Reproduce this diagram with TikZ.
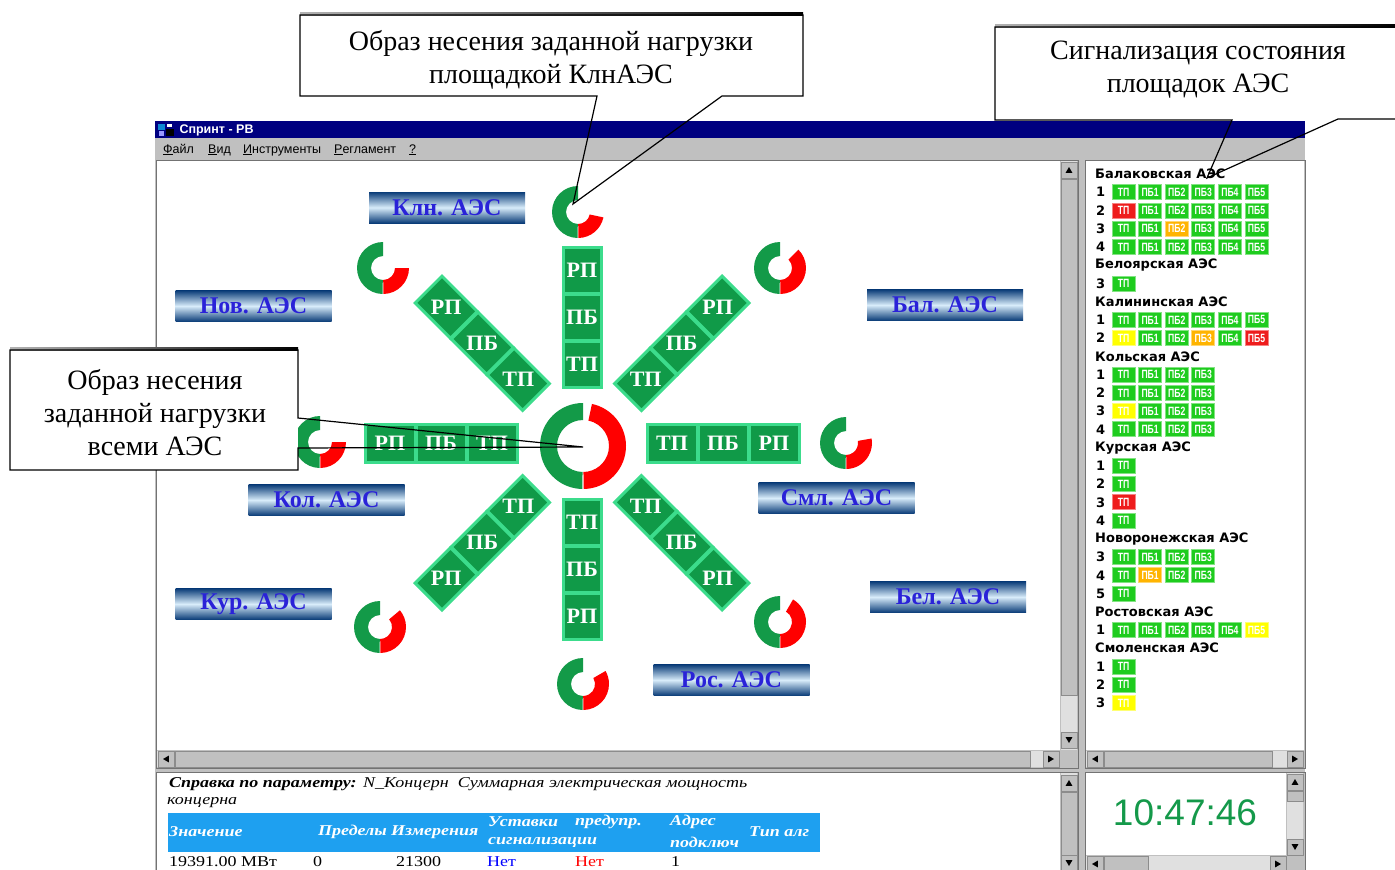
\documentclass[tikz,border=0pt]{standalone}
\usepackage{fontspec}
\setmainfont{Liberation Serif}
\setsansfont{Liberation Sans}
\newfontfamily\panelfont{DejaVu Sans}
\newfontfamily\cellfont[FakeStretch=0.72]{Liberation Sans}
\newfontfamily\infofont[FakeStretch=1.2]{Liberation Serif}
\usetikzlibrary{calc}
\definecolor{wingray}{HTML}{C0C0C0}
\definecolor{winnavy}{HTML}{000080}
\definecolor{armgreen}{HTML}{109A48}
\definecolor{armrim}{HTML}{3CDC8C}
\definecolor{ringgreen}{HTML}{139A48}
\definecolor{ringred}{HTML}{FF0000}
\definecolor{sg}{HTML}{1ECC1E}
\definecolor{sr}{HTML}{EE1C1C}
\definecolor{so}{HTML}{FFB400}
\definecolor{sy}{HTML}{FFFF00}
\definecolor{labelblue}{HTML}{2A22D8}
\definecolor{bardark}{HTML}{0A3C78}
\definecolor{barlight}{HTML}{D8ECFA}
\definecolor{headblue}{HTML}{1EA0F0}
\definecolor{clockgreen}{HTML}{14994A}
\tikzset{
  callout/.style={draw=black, line width=1.2},
  callouttext/.style={align=center, font=\fontsize{28}{33}\selectfont},
  aesbar/.style={minimum width=156, minimum height=31, inner sep=0,
    top color=bardark, bottom color=bardark, middle color=barlight,
    text=labelblue, font=\fontsize{24}{24}\selectfont\bfseries},
  armcell/.style={draw=armrim, line width=3, fill=armgreen,
    minimum width=50, minimum height=38, inner sep=0},
  armtext/.style={text=white, font=\fontsize{22}{22}\selectfont\bfseries},
  sig/.style={fill=#1, draw=#1!55!white, line width=0.8, minimum width=23,
    minimum height=15, inner sep=0, text=white,
    font=\cellfont\bfseries\fontsize{12}{12}\selectfont},
  paneltitle/.style={anchor=west, inner sep=0, font=\panelfont\bfseries\fontsize{13}{13}\selectfont},
  menuitem/.style={anchor=base west, inner sep=0, font=\sffamily\fontsize{12.5}{12.5}\selectfont},
  sbtrack/.style={fill=black!12},
  sbpart/.style={fill=wingray, draw=black!45, line width=0.8},
  pane/.style={draw=black!55, line width=1},
  headcell/.style={anchor=west, inner sep=0, text=white, font=\infofont\bfseries\itshape\fontsize{15}{15}\selectfont},
  datacell/.style={anchor=west, inner sep=0, font=\infofont\fontsize{15}{15}\selectfont},
}
\newcommand\ringmark[4]{%
  \fill[ringgreen] ($(#1)+(91:#2)$) arc[start angle=91, end angle=270, radius=#2]
    -- ($(#1)+(270:#3)$) arc[start angle=270, end angle=91, radius=#3] -- cycle;
  \fill[ringred] ($(#1)+(89:#2)$) arc[start angle=89, end angle=#4, radius=#2]
    -- ($(#1)+(#4:#3)$) arc[start angle=#4, end angle=89, radius=#3] -- cycle;
}
\newcommand\siglabel[1]{\ifcase#1\or ТП\or ПБ1\or ПБ2\or ПБ3\or ПБ4\or ПБ5\fi}
\newcommand\sigtitle[2]{%
  \pgfmathsetmacro\rowy{174+18.24*#1}
  \node[paneltitle] (npp-#1) at (1095,\rowy) {#2};
}
\newcommand\sigrow[3]{%
  \pgfmathsetmacro\rowy{174+18.24*#1}
  \node[paneltitle] (num-#1) at (1096,\rowy) {#2};
  \foreach \c [count=\k, evaluate=\k as \cx using 1123.5+26.6*(\k-1)] in {#3}
    \node[sig=\c] (sig-#1-\k) at (\cx,\rowy) {\siglabel{\k}};
}
\newcommand\sbbtn[3]{%
  \draw[sbpart] (#1,#2) rectangle ++(16,16);
  \fill ($(#1,#2)+(8,8)+(#3:3)$) -- ($(#1,#2)+(8,8)+(#3+130:4.5)$)
    -- ($(#1,#2)+(8,8)+(#3-130:4.5)$) -- cycle;
}
\begin{document}
\begin{tikzpicture}[x=1pt,y=-1pt]
\useasboundingbox[fill=white] (0,0) rectangle (1395,870);
% window
\fill[wingray] (155,138) rectangle (1305,870);
\fill[winnavy] (155,121) rectangle (1305,138);
\fill[cyan!70!blue] (158,124) rectangle (165,130);
\fill[black] (166,129) rectangle (174,136);
\fill[blue!40] (159,131) rectangle (164,136);
\fill[white] (167,124) rectangle (172,127);
\node[anchor=west, text=white, font=\sffamily\bfseries\fontsize{12.5}{12.5}\selectfont] (title) at (176,130) {Спринт - РВ};
\node[menuitem] (m-file) at (163,153) {\underline{Ф}айл};
\node[menuitem] (m-view) at (208,153) {\underline{В}ид};
\node[menuitem] (m-tools) at (243,153) {\underline{И}нструменты};
\node[menuitem] (m-reg) at (334,153) {\underline{Р}егламент};
\node[menuitem] (m-help) at (409,153) {\underline{?}};
% panes
\fill[white] (157,161) rectangle (1060,750);
\fill[white] (1086,161) rectangle (1304,750);
\fill[white] (157,773) rectangle (1060,870);
\fill[white] (1086,773) rectangle (1286,855);
\draw[pane] (156,160) rectangle (1078,768);
\draw[pane] (1085,160) rectangle (1305,768);
\draw[pane] (156,772) rectangle (1078,872);
\draw[pane] (1085,772) rectangle (1305,872);
% scrollbars
\fill[sbtrack] (1061,161) rectangle (1077,750);
\sbbtn{1061}{162}{270}
\draw[sbpart] (1061,179) rectangle (1077,695);
\sbbtn{1061}{732}{90}
\fill[sbtrack] (157,751) rectangle (1060,767);
\sbbtn{158}{751}{180}
\draw[sbpart] (175,751) rectangle (1030,767);
\sbbtn{1043}{751}{0}
\fill[sbtrack] (1086,751) rectangle (1304,767);
\sbbtn{1087}{751}{180}
\draw[sbpart] (1104,751) rectangle (1272,767);
\sbbtn{1287}{751}{0}
\fill[sbtrack] (1061,773) rectangle (1077,870);
\sbbtn{1061}{775}{270}
\draw[sbpart] (1061,792) rectangle (1077,855);
\sbbtn{1061}{855}{90}
\fill[sbtrack] (1287,773) rectangle (1303,856);
\sbbtn{1287}{774}{270}
\draw[sbpart] (1287,791) rectangle (1303,801);
\sbbtn{1287}{839}{90}
\fill[sbtrack] (1086,856) rectangle (1286,870);
\sbbtn{1087}{856}{180}
\draw[sbpart] (1104,856) rectangle (1148,870);
\sbbtn{1270}{856}{0}
% arms
\coordinate (hub) at (582,443);
\foreach \ang/\arm in {0/e,45/se,135/sw,180/w,225/nw,315/ne}{
  \foreach \lab [count=\k, evaluate=\k as \dist using 39+51*\k] in {ТП,ПБ,РП}{
    \node[armcell, rotate=-\ang] (cell-\arm-\k) at ($(hub)+(\ang:\dist)$) {};
    \node[armtext] at (cell-\arm-\k) {\lab};
  }
}
\foreach \ang/\arm in {90/s,270/n}{
  \foreach \lab [count=\k, evaluate=\k as \dist using 32+47*\k] in {ТП,ПБ,РП}{
    \node[armcell, minimum width=46, rotate=-\ang] (cell-\arm-\k) at ($(hub)+(\ang:\dist)$) {};
    \node[armtext] at (cell-\arm-\k) {\lab};
  }
}
% rings
\coordinate (ring-all) at (583,446);
\coordinate (ring-kln) at (578,212);
\coordinate (ring-nov) at (383,268);
\coordinate (ring-bal) at (780,268);
\coordinate (ring-kol) at (320,442);
\coordinate (ring-sml) at (846,443);
\coordinate (ring-kur) at (380,627);
\coordinate (ring-bel) at (780,622);
\coordinate (ring-ros) at (583,684);
\ringmark{ring-all}{43}{26}{-78}
\ringmark{ring-kln}{26}{12}{12}
\ringmark{ring-nov}{26}{12}{0}
\ringmark{ring-bal}{26}{12}{-45}
\ringmark{ring-kol}{26}{12}{0}
\ringmark{ring-sml}{26}{12}{-10}
\ringmark{ring-kur}{26}{12}{-40}
\ringmark{ring-bel}{26}{12}{-60}
\ringmark{ring-ros}{26}{12}{-30}
% station bars
\node[aesbar] (bar-kln) at (447,207.5) {Клн. АЭС};
\node[aesbar] (bar-nov) at (253.5,306) {Нов. АЭС};
\node[aesbar] (bar-bal) at (945,305) {Бал. АЭС};
\node[aesbar] (bar-kol) at (326.5,500) {Кол. АЭС};
\node[aesbar] (bar-sml) at (836.5,498) {Смл. АЭС};
\node[aesbar] (bar-kur) at (253.5,604) {Кур. АЭС};
\node[aesbar] (bar-bel) at (948,597) {Бел. АЭС};
\node[aesbar] (bar-ros) at (731.5,680) {Рос. АЭС};
% signal panel
\sigtitle{0}{Балаковская АЭС}
\sigrow{1}{1}{sg,sg,sg,sg,sg,sg}
\sigrow{2}{2}{sr,sg,sg,sg,sg,sg}
\sigrow{3}{3}{sg,sg,so,sg,sg,sg}
\sigrow{4}{4}{sg,sg,sg,sg,sg,sg}
\sigtitle{5}{Белоярская АЭС}
\sigrow{6}{3}{sg}
\sigtitle{7}{Калининская АЭС}
\sigrow{8}{1}{sg,sg,sg,sg,sg,sg}
\sigrow{9}{2}{sy,sg,sg,so,sg,sr}
\sigtitle{10}{Кольская АЭС}
\sigrow{11}{1}{sg,sg,sg,sg}
\sigrow{12}{2}{sg,sg,sg,sg}
\sigrow{13}{3}{sy,sg,sg,sg}
\sigrow{14}{4}{sg,sg,sg,sg}
\sigtitle{15}{Курская АЭС}
\sigrow{16}{1}{sg}
\sigrow{17}{2}{sg}
\sigrow{18}{3}{sr}
\sigrow{19}{4}{sg}
\sigtitle{20}{Новоронежская АЭС}
\sigrow{21}{3}{sg,sg,sg,sg}
\sigrow{22}{4}{sg,so,sg,sg}
\sigrow{23}{5}{sg}
\sigtitle{24}{Ростовская АЭС}
\sigrow{25}{1}{sg,sg,sg,sg,sg,sy}
\sigtitle{26}{Смоленская АЭС}
\sigrow{27}{1}{sg}
\sigrow{28}{2}{sg}
\sigrow{29}{3}{sy}
% info pane
\node[datacell, font=\infofont\bfseries\itshape\fontsize{15}{15}\selectfont] (info-head) at (169,784) {Справка по параметру:};
\node[datacell, font=\infofont\itshape\fontsize{15}{15}\selectfont] (info-text) at (363,784) {N\_Концерн\ \ Суммарная электрическая мощность};
\node[datacell, font=\infofont\itshape\fontsize{15}{15}\selectfont] (info-text2) at (167,803) {концерна};
\fill[headblue] (168,813) rectangle (820,852);
\node[headcell] (h-val) at (169,832) {Значение};
\node[headcell] (h-lim) at (318,832) {Пределы};
\node[headcell] (h-meas) at (391,832) {Измерения};
\node[headcell] (h-set) at (488,822) {Уставки};
\node[headcell] (h-set2) at (488,842) {сигнализации};
\node[headcell] (h-warn) at (575,822) {предупр.};
\node[headcell] (h-addr) at (670,822) {Адрес};
\node[headcell] (h-addr2) at (670,842) {подключ};
\node[headcell] (h-alg) at (749,832) {Тип алг};
\node[datacell] (d-val) at (169,862) {19391.00 МВт};
\node[datacell] (d-lim) at (313,862) {0};
\node[datacell] (d-meas) at (396,862) {21300};
\node[datacell, text=blue] (d-set) at (487,862) {Нет};
\node[datacell, text=red] (d-warn) at (575,862) {Нет};
\node[datacell] (d-addr) at (671,862) {1};
% clock
\node[text=clockgreen, font=\sffamily\fontsize{37}{37}\selectfont] (clock) at (1185,813) {10:47:46};
% callouts
\coordinate (tip-kln) at (573,204);
\coordinate (tip-sig) at (1207,178);
\coordinate (tip-all) at (583,447);
\fill[white] (300,15) rectangle (803,96);
\shade[left color=black!30, right color=black] (300,12) rectangle (803,15);
\draw[callout] (722,96) -- (803,96) -- (803,15) -- (300,15) -- (300,96) -- (597,96) -- (tip-kln) -- cycle;
\node[callouttext] (note-kln) at (551,60) {Образ несения заданной нагрузки\\площадкой КлнАЭС};
\fill[white] (995,27) rectangle (1400,120);
\shade[left color=black!30, right color=black] (995,24) rectangle (1400,27);
\draw[callout] (1400,27) -- (995,27) -- (995,120) -- (1232,120) -- (tip-sig) -- (1338,119) -- (1400,119);
\node[callouttext] (note-sig) at (1198,70) {Сигнализация состояния\\площадок АЭС};
\fill[white] (10,350) rectangle (298,470);
\shade[left color=black!30, right color=black] (10,347) rectangle (298,350);
\draw[callout] (298,448) -- (298,470) -- (10,470) -- (10,350) -- (298,350) -- (298,418) -- (tip-all) -- cycle;
\node[callouttext] (note-all) at (155,413) {Образ несения\\заданной нагрузки\\всеми АЭС};
\end{tikzpicture}
\end{document}
